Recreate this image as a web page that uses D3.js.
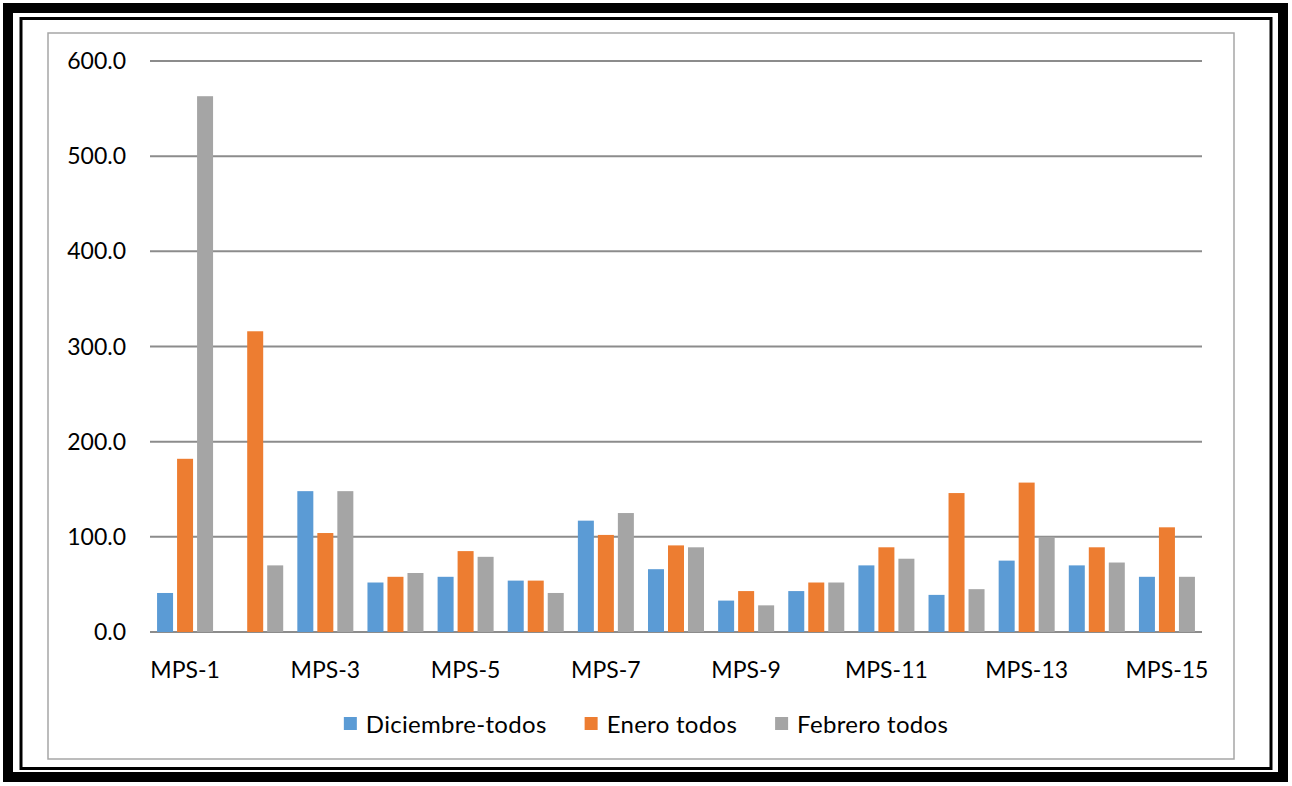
<!DOCTYPE html>
<html>
<head>
<meta charset="utf-8">
<script src="https://cdn.jsdelivr.net/npm/d3@7"></script>
<style>
  html, body { margin: 0; padding: 0; background: #fff; }
  text { font-family: Lato, "Open Sans", sans-serif; fill: #000; }
</style>
</head>
<body>
<div id="chart"></div>
<script>
// data
var categories = ["MPS-1", "MPS-2", "MPS-3", "MPS-4", "MPS-5", "MPS-6", "MPS-7", "MPS-8",
                  "MPS-9", "MPS-10", "MPS-11", "MPS-12", "MPS-13", "MPS-14", "MPS-15"];
var seriesNames = ["Diciembre-todos", "Enero todos", "Febrero todos"];
var diciembre = [41, null, 148, 52, 58, 54, 117, 66, 33, 43, 70, 39, 75, 70, 58];
var enero     = [182, 316, 104, 58, 85, 54, 102, 91, 43, 52, 89, 146, 157, 89, 110];
var febrero   = [563, 70, 148, 62, 79, 41, 125, 89, 28, 52, 77, 45, 100, 73, 58];
var yTicks = [0, 100, 200, 300, 400, 500, 600];
var colors = ["#5b9bd5", "#ed7d31", "#a5a5a5"];

var width = 1292, height = 786;
var plot = { left: 150, right: 1202, top: 61, bottom: 632 };

var svg = d3.select("#chart").append("svg")
    .attr("width", width)
    .attr("height", height);

svg.append("rect").attr("width", width).attr("height", height).attr("fill", "#fff");

// double frame
svg.append("rect")
    .attr("x", 8).attr("y", 8).attr("width", width - 17).attr("height", height - 17)
    .attr("fill", "none").attr("stroke", "#000").attr("stroke-width", 10);
svg.append("rect")
    .attr("x", 21).attr("y", 18.5).attr("width", width - 42).attr("height", height - 36)
    .attr("fill", "none").attr("stroke", "#000").attr("stroke-width", 3);

// chart area border
svg.append("rect")
    .attr("x", 48).attr("y", 33).attr("width", 1186).attr("height", 726)
    .attr("fill", "#fff").attr("stroke", "#a6a6a6").attr("stroke-width", 1.5);

var x = d3.scaleBand().domain(categories).range([plot.left, plot.right]).padding(0);
var xInner = d3.scaleBand().domain(seriesNames).range([0, x.bandwidth()])
    .paddingInner(0.2).paddingOuter(0.353);
var y = d3.scaleLinear().domain([0, 600]).range([plot.bottom, plot.top]);

// gridlines
svg.append("g").selectAll("line")
    .data(yTicks)
    .enter().append("line")
    .attr("x1", plot.left).attr("x2", plot.right)
    .attr("y1", function(d) { return y(d); })
    .attr("y2", function(d) { return y(d); })
    .attr("stroke", "#8c8c8c").attr("stroke-width", 2);

// y labels
svg.append("g").selectAll("text")
    .data(yTicks)
    .enter().append("text")
    .attr("x", 126)
    .attr("y", function(d) { return y(d); })
    .attr("dy", "0.35em")
    .attr("text-anchor", "end")
    .style("font-size", "23px")
    .text(function(d) { return d3.format(".1f")(d); });

// bars
var allSeries = [diciembre, enero, febrero];
var groups = svg.append("g").selectAll("g")
    .data(allSeries)
    .enter().append("g")
    .attr("fill", function(d, i) { return colors[i]; });

groups.each(function(values, si) {
    d3.select(this).selectAll("rect")
        .data(values.map(function(v, ci) { return { cat: categories[ci], v: v }; })
            .filter(function(d) { return d.v != null; }))
        .enter().append("rect")
        .attr("x", function(d) { return x(d.cat) + xInner(seriesNames[si]); })
        .attr("width", xInner.bandwidth())
        .attr("y", function(d) { return y(d.v); })
        .attr("height", function(d) { return y(0) - y(d.v); });
});

// x labels (every other category)
svg.append("g").selectAll("text")
    .data(categories.filter(function(d, i) { return i % 2 === 0; }))
    .enter().append("text")
    .attr("x", function(d) { return x(d) + x.bandwidth() / 2; })
    .attr("y", 670)
    .attr("dy", "0.35em")
    .attr("text-anchor", "middle")
    .style("font-size", "23px")
    .text(function(d) { return d; });

// legend
var legend = svg.append("g");
var items = legend.selectAll("g")
    .data(seriesNames)
    .enter().append("g");
items.append("rect")
    .attr("width", 13).attr("height", 13)
    .attr("y", -8)
    .attr("fill", function(d, i) { return colors[i]; });
items.append("text")
    .attr("x", 22)
    .attr("dy", "0.35em")
    .style("font-size", "24px")
    .style("letter-spacing", "0.3px")
    .text(function(d) { return d; });

var pos = 0, offsets = [];
items.each(function() {
    offsets.push(pos);
    pos += this.getBBox().width + 38;
});
var totalW = pos - 38;
var startX = 646 - totalW / 2;
items.attr("transform", function(d, i) { return "translate(" + (startX + offsets[i]) + ",725)"; });
</script>
</body>
</html>
